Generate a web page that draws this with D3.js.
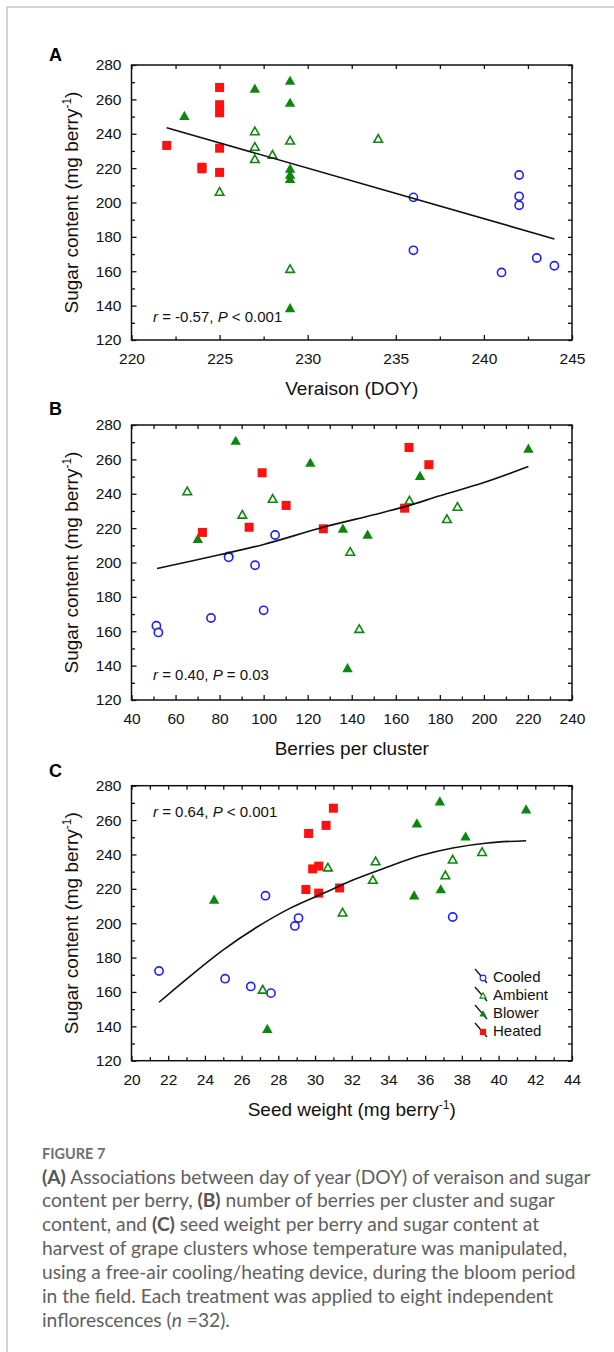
<!DOCTYPE html>
<html><head><meta charset="utf-8">
<script src="https://cdn.jsdelivr.net/npm/d3@7"></script>
<style>body{margin:0;background:#fff}svg{display:block}</style>
</head><body>
<script>
// ---------- data ----------
const treatments = ["Cooled", "Ambient", "Blower", "Heated"];

const sugarCooled  = [216, 203.6, 203, 198.4, 172.2, 167.7, 163.2, 159.3];
const sugarAmbient = [241.2, 236.8, 235.8, 232.2, 227.6, 225, 206, 161.1];
const sugarBlower  = [270.6, 266, 257.8, 250.2, 219.5, 216, 213.5, 138.3];
const sugarHeated  = [266.9, 256.9, 252.2, 233.2, 231.6, 220.5, 219.6, 217.5];

const veraisonCooled  = [242, 242, 236, 242, 236, 243, 244, 241];
const veraisonAmbient = [227, 234, 229, 227, 228, 227, 225, 229];
const veraisonBlower  = [229, 227, 229, 223, 229, 229, 229, 229];
const veraisonHeated  = [225, 225, 225, 222, 225, 224, 224, 225];

const berriesCooled  = [105.2, 84.1, 84.1, 96.1, 100, 76.1, 51.3, 52.2];
const berriesAmbient = [65.3, 104.1, 166.2, 188, 90.3, 183.2, 139.3, 143.4];
const berriesBlower  = [87.3, 220.2, 121.2, 171, 136, 147.2, 70.1, 138.1];
const berriesHeated  = [166, 175, 99.3, 110.2, 164, 93.4, 127.1, 72.2];

const seedCooled  = [27.3, 37.5, 29.1, 28.9, 21.5, 25.1, 26.5, 27.6];
const seedAmbient = [39.1, 37.5, 33.3, 30.7, 37.1, 33.15, 31.5, 27.15];
const seedBlower  = [36.8, 41.5, 35.55, 38.2, 36.85, 35.4, 24.5, 27.4];
const seedHeated  = [31.0, 30.6, 29.65, 30.2, 29.87, 31.34, 29.5, 30.2];

// fitted lines
const fitA = [[222, 243.5], [244, 178.8]];
const fitB = [[51.6, 196.5], [80, 204.5], [100, 210.5], [127, 220.5], [150, 227.8], [165, 232.8], [180, 238.8], [200, 246.5], [220.2, 255.8]];
const fitC = [[21.5, 154], [23, 167.5], [25, 184.5], [26.8, 197.5], [28.6, 208.5], [30.8, 219], [32.1, 225.3], [33.9, 232.5], [35.7, 239.2], [37.5, 243.8], [39.4, 246.7], [41.5, 248]];

// ticks
const sugarTicks = [120, 140, 160, 180, 200, 220, 240, 260, 280];
const sugarMinorTicks = [130, 150, 170, 190, 210, 230, 250, 270];
const veraisonTicks = [220, 225, 230, 235, 240, 245];
const veraisonMinorTicks = [222.5, 227.5, 232.5, 237.5, 242.5];
const berriesTicks = [40, 60, 80, 100, 120, 140, 160, 180, 200, 220, 240];
const berriesMinorTicks = [50, 70, 90, 110, 130, 150, 170, 190, 210, 230];
const seedTicks = [20, 22, 24, 26, 28, 30, 32, 34, 36, 38, 40, 42, 44];
const seedMinorTicks = [21, 23, 25, 27, 29, 31, 33, 35, 37, 39, 41, 43];

const statsA = ["r", " = -0.57, ", "P", " < 0.001"];
const statsB = ["r", " = 0.40, ", "P", " = 0.03"];
const statsC = ["r", " = 0.64, ", "P", " < 0.001"];

const captionLines = [
  [["(A)", true], [" Associations between day of year (DOY) of veraison and sugar", false]],
  [["content per berry, ", false], ["(B)", true], [" number of berries per cluster and sugar", false]],
  [["content, and ", false], ["(C)", true], [" seed weight per berry and sugar content at", false]],
  [["harvest of grape clusters whose temperature was manipulated,", false]],
  [["using a free-air cooling/heating device, during the bloom period", false]],
  [["in the field. Each treatment was applied to eight independent", false]],
  [["inflorescences (", false], ["n", "i"], [" =32).", false]]
];

// ---------- drawing ----------
const W = 614, H = 1352;
const FONT = "'Liberation Sans', Arial, Helvetica, sans-serif";
const GREEN = "#0b870b", RED = "#ff1010", BLUE = "#2020ff";
const svg = d3.select("body").append("svg").attr("width", W).attr("height", H)
  .style("font-family", FONT);

// outer frame
svg.append("line").attr("x1", 7).attr("y1", 7).attr("x2", W).attr("y2", 7).attr("stroke", "#a8a8a8").attr("stroke-width", 1);
svg.append("line").attr("x1", 7).attr("y1", 7).attr("x2", 7).attr("y2", H).attr("stroke", "#a8a8a8").attr("stroke-width", 1);

const L = 131.5, R = 572, PH = 275;

function marker(g, type, x, y, s) {
  s = s || 1;
  if (type === "Cooled") {
    g.append("circle").attr("cx", x).attr("cy", y).attr("r", 4.1 * s)
      .attr("fill", "#fff").attr("stroke", BLUE).attr("stroke-width", 1.6 * s);
  } else if (type === "Heated") {
    const a = 9 * s;
    g.append("rect").attr("x", x - a / 2).attr("y", y - a / 2).attr("width", a).attr("height", a).attr("fill", RED);
  } else {
    const w = (type === "Ambient" ? 8.6 : 10.4) * s, h = (type === "Ambient" ? 7.6 : 9.2) * s;
    const p = `M${x},${y - h * 0.6}L${x + w / 2},${y + h * 0.4}L${x - w / 2},${y + h * 0.4}Z`;
    if (type === "Ambient")
      g.append("path").attr("d", p).attr("fill", "#fff").attr("stroke", GREEN).attr("stroke-width", 1.6 * s).attr("stroke-linejoin", "miter");
    else
      g.append("path").attr("d", p).attr("fill", GREEN);
  }
}

const panels = [
  { letter: "A", letterY: 61, top: 65, domain: [220, 245], ticks: veraisonTicks, minor: veraisonMinorTicks,
    xs: { Cooled: veraisonCooled, Ambient: veraisonAmbient, Blower: veraisonBlower, Heated: veraisonHeated },
    fit: fitA, curve: d3.curveLinear, stats: statsA, statsY: 321.5,
    title: ["Veraison (DOY)"] },
  { letter: "B", letterY: 415, top: 425, domain: [40, 240], ticks: berriesTicks, minor: berriesMinorTicks,
    xs: { Cooled: berriesCooled, Ambient: berriesAmbient, Blower: berriesBlower, Heated: berriesHeated },
    fit: fitB, curve: d3.curveCatmullRom, stats: statsB, statsY: 680,
    title: ["Berries per cluster"] },
  { letter: "C", letterY: 777, top: 785.7, domain: [20, 44], ticks: seedTicks, minor: seedMinorTicks,
    xs: { Cooled: seedCooled, Ambient: seedAmbient, Blower: seedBlower, Heated: seedHeated },
    fit: fitC, curve: d3.curveCatmullRom, stats: statsC, statsY: 817,
    title: ["Seed weight (mg berry", "-1", ")"], legend: true }
];
const sugars = { Cooled: sugarCooled, Ambient: sugarAmbient, Blower: sugarBlower, Heated: sugarHeated };

panels.forEach(p => {
  const x = d3.scaleLinear().domain(p.domain).range([L, R]);
  const y = d3.scaleLinear().domain([120, 280]).range([p.top + PH, p.top]);
  const g = svg.append("g");

  // frame
  g.append("rect").attr("x", L).attr("y", p.top).attr("width", R - L).attr("height", PH)
    .attr("fill", "none").attr("stroke", "#111").attr("stroke-width", 1.5);

  const styleAxis = sel => {
    sel.select(".domain").remove();
    sel.selectAll("line").attr("stroke", "#111").attr("stroke-width", 1.3);
    sel.selectAll("text").attr("fill", "#111").style("font-size", "15.5px").style("font-family", FONT);
  };
  // bottom
  g.append("g").attr("transform", `translate(0,${p.top + PH})`)
    .call(d3.axisBottom(x).tickValues(p.ticks).tickSizeInner(-5).tickSizeOuter(0).tickPadding(13).tickFormat(d3.format("d"))).call(styleAxis);
  g.append("g").attr("transform", `translate(0,${p.top + PH})`)
    .call(d3.axisBottom(x).tickValues(p.minor).tickSizeInner(-3.5).tickSizeOuter(0).tickFormat("")).call(styleAxis);
  // top
  g.append("g").attr("transform", `translate(0,${p.top})`)
    .call(d3.axisTop(x).tickValues(p.ticks.concat(p.minor)).tickSizeInner(-4).tickSizeOuter(0).tickFormat("")).call(styleAxis);
  // left
  g.append("g").attr("transform", `translate(${L},0)`)
    .call(d3.axisLeft(y).tickValues(sugarTicks).tickSizeInner(-5).tickSizeOuter(0).tickPadding(10)).call(styleAxis);
  g.append("g").attr("transform", `translate(${L},0)`)
    .call(d3.axisLeft(y).tickValues(sugarMinorTicks).tickSizeInner(-3.5).tickSizeOuter(0).tickFormat("")).call(styleAxis);
  // right
  g.append("g").attr("transform", `translate(${R},0)`)
    .call(d3.axisRight(y).tickValues(sugarTicks.concat(sugarMinorTicks)).tickSizeInner(-4).tickSizeOuter(0).tickFormat("")).call(styleAxis);

  // points
  const pts = g.append("g");
  treatments.forEach(t => {
    p.xs[t].forEach((xv, i) => marker(pts, t, x(xv), y(sugars[t][i])));
  });

  // fit line
  g.append("path").datum(p.fit)
    .attr("d", d3.line().x(d => x(d[0])).y(d => y(d[1])).curve(p.curve))
    .attr("fill", "none").attr("stroke", "#111").attr("stroke-width", 1.6);

  // stats text
  const st = g.append("text").attr("x", 153).attr("y", p.statsY).attr("fill", "#111").style("font-size", "15px");
  st.append("tspan").style("font-style", "italic").text(p.stats[0]);
  st.append("tspan").text(p.stats[1]);
  st.append("tspan").style("font-style", "italic").text(p.stats[2]);
  st.append("tspan").text(p.stats[3]);

  // panel letter
  g.append("text").attr("x", 49).attr("y", p.letterY).attr("fill", "#000")
    .style("font-size", "18px").style("font-weight", "bold").text(p.letter);

  // y title
  const yt = g.append("text").attr("transform", `translate(78,${p.top + PH / 2}) rotate(-90)`)
    .attr("text-anchor", "middle").attr("fill", "#111").style("font-size", "19px");
  yt.append("tspan").text("Sugar content (mg berry");
  yt.append("tspan").attr("dy", -7).style("font-size", "12px").text("-1");
  yt.append("tspan").attr("dy", 7).text(")");

  // x title
  const xt = g.append("text").attr("x", (L + R) / 2).attr("y", p.top + PH + 55)
    .attr("text-anchor", "middle").attr("fill", "#111").style("font-size", "19px");
  xt.append("tspan").text(p.title[0]);
  if (p.title.length > 1) {
    xt.append("tspan").attr("dy", -7).style("font-size", "12px").text(p.title[1]);
    xt.append("tspan").attr("dy", 7).text(p.title[2]);
  }

  if (p.legend) {
    const lg = g.append("g");
    treatments.forEach((t, i) => {
      const by = 982 + i * 18;
      lg.append("line").attr("x1", 475).attr("y1", by - 13).attr("x2", 487).attr("y2", by + 1)
        .attr("stroke", "#111").attr("stroke-width", 1.3);
      marker(lg, t, 483, by - 4, 0.7);
      lg.append("text").attr("x", 493).attr("y", by).attr("fill", "#111").style("font-size", "15px").text(t);
    });
  }
});

// ---------- caption ----------
const CAPF = "Lato, 'Open Sans', 'Noto Sans', sans-serif";
svg.append("text").attr("x", 42).attr("y", 1159).attr("fill", "#707070")
  .style("font-family", CAPF).style("font-size", "14.5px").style("font-weight", "bold").text("FIGURE 7");

const capG = svg.append("g").style("font-family", CAPF).attr("fill", "#606060");
const capTexts = captionLines.map((segs, i) => {
  const t = capG.append("text").attr("x", 42).attr("y", 1183.5 + i * 23.9).style("font-size", "17px");
  segs.forEach(([s, b]) => {
    const ts = t.append("tspan").text(s);
    if (b === true) ts.style("font-weight", "bold").attr("fill", "#555");
    if (b === "i") ts.style("font-style", "italic");
  });
  return t;
});
const w0 = capTexts[0].node().getComputedTextLength();
const fs = 17 * 549 / w0;
capTexts.forEach(t => t.style("font-size", fs + "px"));
</script>
</body></html>
